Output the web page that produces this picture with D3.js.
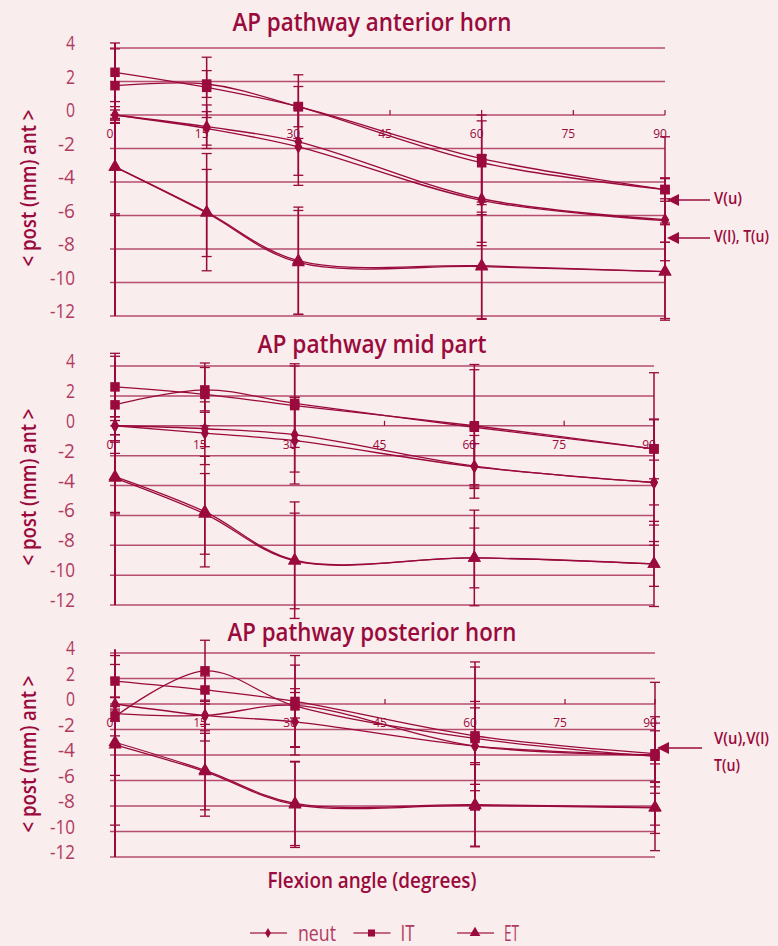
<!DOCTYPE html>
<html>
<head>
<meta charset="utf-8">
<script src="https://cdn.jsdelivr.net/npm/d3@7"></script>
<style>
  body { margin: 0; background: #f9eded; }
  text { font-family: "Open Sans", "Noto Sans", sans-serif; }
</style>
</head>
<body>
<div id="chart"></div>
<script>
// ---- data ----
var angles = [0, 15, 30, 60, 90];
var xTicks = [0, 15, 30, 45, 60, 75, 90];
var yTicks = [4, 2, 0, -2, -4, -6, -8, -10, -12];
var panelTitles = ["AP pathway anterior horn", "AP pathway mid part", "AP pathway posterior horn"];
var seriesGroup = ["neut", "neut", "IT", "IT", "ET", "ET"];
var legendNames = ["neut", "IT", "ET"];

// one row per curve, same order as seriesGroup
var anteriorMeans = [
  [0, -0.7, -1.6, -5.0, -6.25],
  [0, -0.8, -1.9, -5.1, -6.3],
  [2.55, 1.65, 0.5, -2.6, -4.45],
  [1.75, 1.85, 0.5, -2.85, -4.45],
  [-3.1, -5.8, -8.7, -9.0, -9.35],
  [-3.1, -5.85, -8.8, -9.05, -9.35]
];
var anteriorErrors = [
  [0.3, 1.3, 2.0, 2.6, 2.45],
  [0.5, 1.0, 2.3, 2.7, 1.3],
  [1.75, 1.8, 1.9, 2.6, 3.15],
  [2.2, 0.8, 1.2, 2.5, 0.7],
  [2.8, 3.5, 3.2, 3.2, 2.9],
  [2.9, 2.6, 3.1, 3.1, 2.8]
];

var midMeans = [
  [0, -0.2, -0.6, -2.7, -3.8],
  [0, -0.5, -1.0, -2.75, -3.8],
  [2.6, 2.1, 1.35, 0.0, -1.55],
  [1.4, 2.4, 1.5, -0.1, -1.55],
  [-3.4, -5.75, -9.0, -8.85, -9.25],
  [-3.5, -5.9, -9.05, -8.85, -9.25]
];
var midErrors = [
  [0.6, 1.2, 2.5, 1.5, 4.2],
  [0.6, 2.1, 2.9, 2.1, 1.5],
  [2.25, 2.1, 2.8, 4.1, 5.1],
  [3.25, 1.5, 2.5, 3.85, 2.0],
  [2.4, 3.7, 3.9, 3.2, 2.85],
  [2.4, 2.7, 3.2, 2.0, 1.5]
];

var posteriorMeans = [
  [0, -0.9, -1.4, -3.3, -4.0],
  [-0.75, -0.9, -0.1, -3.3, -4.0],
  [1.8, 1.1, 0.2, -2.5, -3.9],
  [-1.0, 2.6, -0.15, -2.7, -4.1],
  [-3.0, -5.2, -7.8, -7.9, -8.1],
  [-3.2, -5.3, -7.9, -7.95, -8.15]
];
var posteriorErrors = [
  [0.55, 1.2, 2.6, 3.5, 3.0],
  [0.6, 2.0, 1.0, 3.0, 2.5],
  [2.0, 1.1, 3.6, 5.8, 5.6],
  [1.5, 2.4, 3.2, 5.6, 2.0],
  [2.6, 3.6, 3.3, 3.3, 3.4],
  [6.3, 3.0, 3.35, 3.2, 2.0]
];

// ---- layout ----
var width = 778, height = 946;
var ink = "#9a0a3c", soft = "#b03a62";

var svg = d3.select("#chart").append("svg")
  .attr("width", width)
  .attr("height", height);

// the original uses a condensed face; squeeze the glyphs to the measured width
function squeeze(sel, len) {
  sel.attr("textLength", len).attr("lengthAdjust", "spacingAndGlyphs");
}

var panels = [
  { title: panelTitles[0], titleW: 279, means: anteriorMeans, errors: anteriorErrors, left: 115, right: 665, top: 48, bottom: 316, titleY: 31, axisTitleY: 188 },
  { title: panelTitles[1], titleW: 229, means: midMeans, errors: midErrors, left: 115, right: 654, top: 366, bottom: 605, titleY: 353, axisTitleY: 487 },
  { title: panelTitles[2], titleW: 289, means: posteriorMeans, errors: posteriorErrors, left: 115, right: 655, top: 653, bottom: 857, titleY: 641, axisTitleY: 754 }
];

var symbolFor = { neut: d3.symbolDiamond, IT: d3.symbolSquare, ET: d3.symbolTriangle };
var sizeFor = { neut: 55, IT: 90, ET: 75 };

var line = d3.line().curve(d3.curveCatmullRom.alpha(0.5));

panels.forEach(function(p) {
  var x = d3.scaleLinear().domain([0, 90]).range([p.left, p.right]);
  var y = d3.scaleLinear().domain([4, -12]).range([p.top, p.bottom]);
  var g = svg.append("g");

  g.append("text")
    .attr("x", 372).attr("y", p.titleY)
    .attr("text-anchor", "middle")
    .attr("font-size", 26).attr("font-weight", 600)
    .attr("fill", ink)
    .text(p.title)
    .call(squeeze, p.titleW);

  g.append("text")
    .attr("transform", "translate(36," + p.axisTitleY + ") rotate(-90)")
    .attr("text-anchor", "middle")
    .attr("font-size", 22).attr("font-weight", 600)
    .attr("fill", ink)
    .text("< post (mm) ant >")
    .call(squeeze, 157);

  // horizontal grid
  g.selectAll(".grid").data(yTicks).enter().append("line")
    .attr("x1", p.left - 5).attr("x2", p.right)
    .attr("y1", function(d) { return y(d); })
    .attr("y2", function(d) { return y(d); })
    .attr("stroke", ink).attr("stroke-opacity", 0.7)
    .attr("stroke-width", 1.5);

  // y tick labels
  g.selectAll(".ylab").data(yTicks).enter().append("text")
    .attr("x", 75).attr("y", function(d) { return y(d) + 2; })
    .attr("text-anchor", "end")
    .attr("font-size", 20)
    .attr("fill", soft)
    .text(function(d) { return d; })
    .each(function(d) {
      var s = String(d);
      d3.select(this).call(squeeze, s.length === 1 ? 9 : (s.length === 2 ? 17 : 25));
    });

  // y axis line
  g.append("line")
    .attr("x1", x(0)).attr("x2", x(0))
    .attr("y1", y(4.3)).attr("y2", y(-12))
    .attr("stroke", ink).attr("stroke-width", 2);

  // x axis on the zero line
  g.selectAll(".xtick").data(xTicks).enter().append("line")
    .attr("x1", function(d) { return x(d); })
    .attr("x2", function(d) { return x(d); })
    .attr("y1", y(0)).attr("y2", y(0) - 5)
    .attr("stroke", ink).attr("stroke-width", 1.2);

  g.selectAll(".xlab").data(xTicks).enter().append("text")
    .attr("x", function(d) { return x(d) - 5; })
    .attr("y", y(0) + 23)
    .attr("text-anchor", "middle")
    .attr("font-size", 12)
    .attr("fill", ink)
    .text(function(d) { return d; });

  var series = p.means.map(function(row, i) {
    return {
      group: seriesGroup[i],
      points: angles.map(function(a, j) { return { a: a, m: row[j], e: p.errors[i][j] }; })
    };
  });

  // error bars
  series.forEach(function(s) {
    var eb = g.append("g").selectAll("g").data(s.points).enter().append("g");
    eb.append("line")
      .attr("x1", function(d) { return x(d.a); })
      .attr("x2", function(d) { return x(d.a); })
      .attr("y1", function(d) { return y(d.m + d.e); })
      .attr("y2", function(d) { return y(d.m - d.e); })
      .attr("stroke", ink).attr("stroke-width", 1.5);
    [1, -1].forEach(function(sign) {
      eb.append("line")
        .attr("x1", function(d) { return x(d.a) - 5; })
        .attr("x2", function(d) { return x(d.a) + 5; })
        .attr("y1", function(d) { return y(d.m + sign * d.e); })
        .attr("y2", function(d) { return y(d.m + sign * d.e); })
        .attr("stroke", ink).attr("stroke-width", 1.3);
    });
  });

  // curves
  series.forEach(function(s) {
    g.append("path")
      .attr("d", line(s.points.map(function(d) { return [x(d.a), y(d.m)]; })))
      .attr("fill", "none")
      .attr("stroke", ink).attr("stroke-width", 1.3);
  });

  // markers
  series.forEach(function(s) {
    g.selectAll(null).data(s.points).enter().append("path")
      .attr("transform", function(d) { return "translate(" + x(d.a) + "," + y(d.m) + ")"; })
      .attr("d", d3.symbol(symbolFor[s.group], sizeFor[s.group]))
      .attr("fill", ink);
  });
});

// annotations with arrows
var notes = [
  { tipX: 667, y: 200, endX: 710, lines: ["V(u)"], widths: [28], textY: 204 },
  { tipX: 667, y: 238, endX: 710, lines: ["V(l), T(u)"], widths: [55], textY: 242 },
  { tipX: 657, y: 748, endX: 702, lines: ["V(u),V(l)", "T(u)"], widths: [55, 26], textY: 744 }
];
notes.forEach(function(n) {
  svg.append("line")
    .attr("x1", n.tipX + 10).attr("x2", n.endX)
    .attr("y1", n.y).attr("y2", n.y)
    .attr("stroke", ink).attr("stroke-width", 1.5);
  svg.append("path")
    .attr("d", d3.line()([[n.tipX, n.y], [n.tipX + 12, n.y - 6], [n.tipX + 12, n.y + 6]]) + "Z")
    .attr("fill", ink);
  n.lines.forEach(function(t, i) {
    svg.append("text")
      .attr("x", 714).attr("y", n.textY + i * 27)
      .attr("font-size", 16).attr("font-weight", 600)
      .attr("fill", ink)
      .text(t)
      .call(squeeze, n.widths[i]);
  });
});

svg.append("text")
  .attr("x", 372).attr("y", 888)
  .attr("text-anchor", "middle")
  .attr("font-size", 22).attr("font-weight", 600)
  .attr("fill", ink)
  .text("Flexion angle (degrees)")
  .call(squeeze, 209);

// legend
var legendX = d3.scalePoint().domain(legendNames).range([250, 457]);
var legendW = { neut: 38, IT: 14, ET: 15 };
var lg = svg.selectAll(".legend").data(legendNames).enter().append("g")
  .attr("transform", function(d) { return "translate(" + legendX(d) + ",933)"; });
lg.append("line")
  .attr("x1", 0).attr("x2", 37)
  .attr("stroke", soft).attr("stroke-width", 1.3);
lg.append("path")
  .attr("transform", "translate(18,0)")
  .attr("d", function(d) { return d3.symbol(symbolFor[d], d === "neut" ? 30 : 50)(); })
  .attr("fill", ink);
lg.append("text")
  .attr("x", function(d) { return d === "neut" ? 48 : 47; })
  .attr("y", 8)
  .attr("font-size", 21)
  .attr("fill", soft)
  .text(function(d) { return d; })
  .each(function(d) { d3.select(this).call(squeeze, legendW[d]); });
</script>
</body>
</html>
